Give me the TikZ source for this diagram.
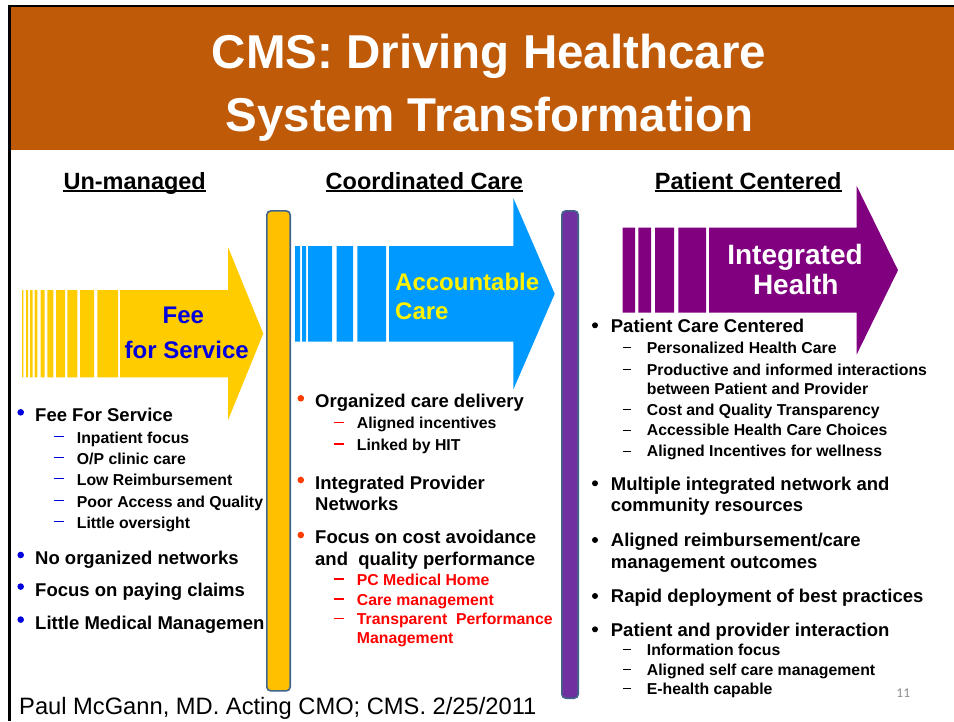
\documentclass[tikz,border=0pt]{standalone}
\usepackage{fontspec}
\setmainfont{Liberation Sans}
\newfontfamily\slidenum{Carlito}
\usetikzlibrary{calc}
\definecolor{band}{RGB}{191,90,8}
\definecolor{feeyellow}{RGB}{255,204,0}
\definecolor{baryellow}{RGB}{255,192,0}
\definecolor{acoblue}{RGB}{0,153,255}
\definecolor{intpurple}{RGB}{128,0,128}
\definecolor{barpurple}{RGB}{112,48,160}
\definecolor{barborder}{RGB}{65,100,140}
\definecolor{feeblue}{RGB}{0,0,220}
\definecolor{bulletred}{RGB}{255,60,0}
\definecolor{carered}{RGB}{255,0,0}
\definecolor{pagegray}{RGB}{140,140,140}
\tikzstyle{titletext} = [text=white, font=\bfseries\fontsize{47.5}{57}\selectfont, anchor=base, inner sep=0pt]
\tikzstyle{heading} = [font=\bfseries\fontsize{23.5}{28}\selectfont, anchor=base, inner sep=0pt]
\tikzstyle{headline} = [line width=2.2pt]
\tikzstyle{arrowtext} = [font=\bfseries\fontsize{24}{29}\selectfont, inner sep=0pt]
\tikzstyle{listitem} = [font=\bfseries\fontsize{18.5}{22}\selectfont, anchor=base west, inner sep=0pt]
\tikzstyle{subitem} = [font=\bfseries\fontsize{15.8}{19}\selectfont, anchor=base west, inner sep=0pt]
\tikzstyle{bulletdot} = [circle, inner sep=0pt, minimum size=6.6pt]
\tikzstyle{bar} = [rectangle, draw=barborder, line width=1.6pt, rounded corners=4pt, inner sep=0pt]
\newcommand{\udash}{\makebox[23.4pt][l]{\textcolor{feeblue}{\rule[5.9pt]{10pt}{1.4pt}}}}
\newcommand{\cdash}{\makebox[23.4pt][l]{\textcolor{carered}{\rule[5.5pt]{10.7pt}{1.3pt}}}}
\newcommand{\pdash}{\makebox[24pt][l]{\rule[5.1pt]{8pt}{1pt}}}

\begin{document}
\begin{tikzpicture}[x=1pt,y=-1pt]
\useasboundingbox (0,0) rectangle (954,721);
\fill[band] (9.5,6.2) rectangle (954,150);
\draw[line width=2.4pt] (9.5,721) -- (9.5,6.2) -- (954,6.2);
\node (t1) at (489,68) [titletext] {CMS: Driving Healthcare};
\node (t2) at (489.5,131) [titletext] {System Transformation};

\node (hu) at (134.7,189) [heading] {Un-managed};
\node (hc) at (424.3,189) [heading] {Coordinated Care};
\node (hp) at (748.2,189) [heading] {Patient Centered};
\draw[headline] ([yshift=-2.3pt]hu.base west) -- ([yshift=-2.3pt]hu.base east);
\draw[headline] ([yshift=-2.3pt]hc.base west) -- ([yshift=-2.3pt]hc.base east);
\draw[headline] ([yshift=-2.3pt]hp.base west) -- ([yshift=-2.3pt]hp.base east);

\fill[feeyellow] (22,290) rectangle (23.3,377.3) (26,290) rectangle (28,377.3)
  (30,290) rectangle (32.7,377.3) (34.7,290) rectangle (37.3,377.3)
  (40.7,290) rectangle (44.7,377.3) (47.3,290) rectangle (53.3,377.3)
  (56,290) rectangle (65,377.3) (67.3,290) rectangle (77.3,377.3)
  (80,290) rectangle (94,377.3) (97.3,290) rectangle (118,377.3)
  (120,290) -- (228,290) -- (228,247) -- (263.3,333.6) -- (228,420.2) -- (228,377.3) -- (120,377.3) -- cycle;
\node (fee1) at (183.3,323.5) [arrowtext, anchor=base, text=feeblue] {Fee};
\node (fee2) at (186.7,358.3) [arrowtext, anchor=base, text=feeblue] {for Service};

\fill[acoblue] (295,246) rectangle (300,341.7) (302,246) rectangle (306,341.7)
  (308,246) rectangle (332,341.7) (336.7,246) rectangle (353,341.7)
  (357.3,246) rectangle (386,341.7)
  (389,246) -- (513.3,246) -- (513.3,198) -- (554.7,293.8) -- (513.3,389.6) -- (513.3,341.7) -- (389,341.7) -- cycle;
\node (aco1) at (395,290.5) [arrowtext, anchor=base west, text=yellow] {Accountable};
\node (aco2) at (395,319.3) [arrowtext, anchor=base west, text=yellow] {Care};

\fill[intpurple] (622.7,227.7) rectangle (635,312.7) (638.3,227.7) rectangle (651,312.7)
  (655,227.7) rectangle (674,312.7) (678.3,227.7) rectangle (706,312.7)
  (709,227.7) -- (856.7,227.7) -- (856.7,186) -- (898,270.2) -- (856.7,354.4) -- (856.7,312.7) -- (709,312.7) -- cycle;
\node (int1) at (795,264) [arrowtext, anchor=base, text=white, font=\bfseries\fontsize{28}{33}\selectfont] {Integrated};
\node (int2) at (795.8,294.3) [arrowtext, anchor=base, text=white, font=\bfseries\fontsize{28}{33}\selectfont] {Health};

\node (ub1) at (20.7,412.3) [bulletdot, fill=feeblue] {};
\node (u1) at (35,421.7) [listitem] {Fee For Service};
\node (u11) at (53.3,443.3) [subitem] {\udash Inpatient focus};
\node (u12) at (53.3,464) [subitem] {\udash O/P clinic care};
\node (u13) at (53.3,485) [subitem] {\udash Low Reimbursement};
\node (u14) at (53.3,507.3) [subitem] {\udash Poor Access and Quality};
\node (u15) at (53.3,528.3) [subitem] {\udash Little oversight};
\node (ub2) at (20.7,555) [bulletdot, fill=feeblue] {};
\node (u2) at (35,564.3) [listitem] {No organized networks};
\node (ub3) at (20.7,586.6) [bulletdot, fill=feeblue] {};
\node (u3) at (35,596) [listitem] {Focus on paying claims};
\node (ub4) at (20.7,619.6) [bulletdot, fill=feeblue] {};
\node (u4) at (35,629) [listitem] {Little Medical Managemen};

\node (cb1) at (300.8,398.3) [bulletdot, fill=bulletred] {};
\node (c1) at (315,407.3) [listitem] {Organized care delivery};
\node (c11) at (333.3,428.7) [subitem] {\cdash Aligned incentives};
\node (c12) at (333.3,450) [subitem] {\cdash Linked by HIT};
\node (cb2) at (300.8,480) [bulletdot, fill=bulletred] {};
\node (c2) at (315,489.3) [listitem] {Integrated Provider};
\node (c2b) at (315,510.7) [listitem] {Networks};
\node (cb3) at (300.8,535) [bulletdot, fill=bulletred] {};
\node (c3) at (315,543.3) [listitem] {Focus on cost avoidance};
\node (c3b) at (315,565.7) [listitem] {and\ \ quality performance};
\node (c31) at (333.3,585) [subitem, text=carered] {\cdash PC Medical Home};
\node (c32) at (333.3,605) [subitem, text=carered] {\cdash Care management};
\node (c33) at (333.3,624.3) [subitem, text=carered] {\cdash Transparent\ \ Performance};
\node (c33b) at (356.7,643.3) [subitem, text=carered] {Management};

\node (pb1) at (595,325.3) [bulletdot, fill=black, minimum size=6pt] {};
\node (p1) at (610.7,332) [listitem] {Patient Care Centered};
\node (p11) at (622.7,353.3) [subitem] {\pdash Personalized Health Care};
\node (p12) at (622.7,375) [subitem] {\pdash Productive and informed interactions};
\node (p12b) at (646.7,394) [subitem] {between Patient and Provider};
\node (p13) at (622.7,415) [subitem] {\pdash Cost and Quality Transparency};
\node (p14) at (622.7,435.7) [subitem] {\pdash Accessible Health Care Choices};
\node (p15) at (622.7,456.7) [subitem] {\pdash Aligned Incentives for wellness};
\node (pb2) at (595,483.3) [bulletdot, fill=black, minimum size=6pt] {};
\node (p2) at (610.7,490) [listitem] {Multiple integrated network and};
\node (p2b) at (610.7,511.7) [listitem] {community resources};
\node (pb3) at (595,540) [bulletdot, fill=black, minimum size=6pt] {};
\node (p3) at (610.7,546.7) [listitem] {Aligned reimbursement/care};
\node (p3b) at (610.7,568.3) [listitem] {management outcomes};
\node (pb4) at (595,596) [bulletdot, fill=black, minimum size=6pt] {};
\node (p4) at (610.7,602.7) [listitem] {Rapid deployment of best practices};
\node (pb5) at (595,629.3) [bulletdot, fill=black, minimum size=6pt] {};
\node (p5) at (610.7,636) [listitem] {Patient and provider interaction};
\node (p51) at (622.7,655) [subitem] {\pdash Information focus};
\node (p52) at (622.7,675) [subitem] {\pdash Aligned self care management};
\node (p53) at (622.7,694) [subitem] {\pdash E-health capable};

\node (bar1) at (278.5,450.9) [bar, fill=baryellow, minimum width=23.4pt, minimum height=480pt] {};
\node (bar2) at (570,454.5) [bar, fill=barpurple, minimum width=16.4pt, minimum height=487.4pt] {};

\node (foot) at (19,714.7) [anchor=base west, inner sep=0pt, font=\fontsize{23.7}{28}\selectfont] {Paul McGann, MD. Acting CMO; CMS. 2/25/2011};
\node (pnum) at (903.3,692.7) [text=pagegray, font=\slidenum\fontsize{13.5}{16}\selectfont] {11};
\end{tikzpicture}
\end{document}
